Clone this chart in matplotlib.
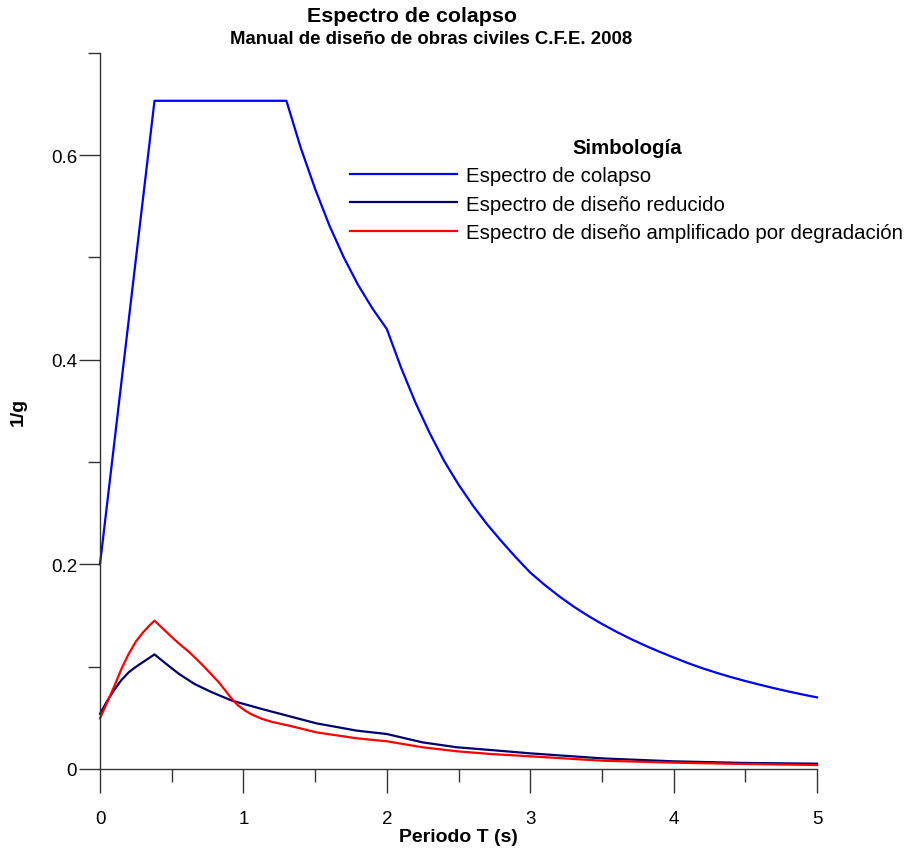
import matplotlib
matplotlib.use("Agg")
import matplotlib.pyplot as plt
from matplotlib.ticker import MultipleLocator

plt.rcParams['font.family'] = ['Liberation Sans', 'DejaVu Sans']

# Periodo T (s) and ordinates for each spectrum
t_colapso = [0.0, 0.38, 1.3, 1.4, 1.5, 1.6, 1.7, 1.8, 1.9, 2.0,
             2.1, 2.2, 2.3, 2.4, 2.5, 2.6, 2.7, 2.8, 2.9, 3.0,
             3.1, 3.2, 3.3, 3.4, 3.5, 3.6, 3.7, 3.8, 3.9, 4.0,
             4.1, 4.2, 4.3, 4.4, 4.5, 4.6, 4.7, 4.8, 4.9, 5.0]
a_colapso = [0.200, 0.653, 0.653, 0.607, 0.567, 0.531, 0.500, 0.473, 0.450, 0.430,
             0.392, 0.358, 0.328, 0.301, 0.278, 0.2575, 0.239, 0.2225, 0.2068, 0.192,
             0.180, 0.169, 0.159, 0.150, 0.1418, 0.1342, 0.1272, 0.1207, 0.1147, 0.109,
             0.1035, 0.0985, 0.094, 0.0898, 0.086, 0.0824, 0.079, 0.0758, 0.0728, 0.070]

t_reducido = [0.0, 0.05, 0.1, 0.15, 0.2, 0.25, 0.3, 0.38, 0.45, 0.55, 0.66, 0.78, 0.92, 1.13, 1.33,
              1.51, 1.79, 2.0, 2.25, 2.49, 2.72, 3.0, 3.5, 4.0, 4.5, 5.0]
a_reducido = [0.054, 0.0665, 0.0775, 0.087, 0.0945, 0.0998, 0.1045, 0.112, 0.104, 0.093, 0.083, 0.075,
              0.0668, 0.0586, 0.0512, 0.0446, 0.0375, 0.0342, 0.026, 0.0212, 0.0186, 0.0153, 0.0104,
              0.0075, 0.0059, 0.0052]

t_amplificado = [0.0, 0.05, 0.1, 0.15, 0.2, 0.25, 0.3, 0.34, 0.38, 0.44, 0.5, 0.56, 0.62, 0.68, 0.73,
                 0.78, 0.83, 0.875, 0.92, 0.96, 1.01, 1.06, 1.13, 1.2, 1.33,
                 1.51, 1.79, 2.0, 2.25, 2.49, 2.72, 3.0, 3.5, 4.0, 4.5, 5.0]
a_amplificado = [0.0495, 0.065, 0.081, 0.098, 0.1125, 0.1245, 0.1335, 0.1395, 0.145, 0.137, 0.129,
                 0.1215, 0.1145, 0.1065, 0.0994, 0.092, 0.0845, 0.0765, 0.0684, 0.0625, 0.0572,
                 0.0532, 0.049, 0.046, 0.042,
                 0.0358, 0.030, 0.0271, 0.0212, 0.0173, 0.0147, 0.0124, 0.0081, 0.0062, 0.0049, 0.0039]

x_ticks = [0, 1, 2, 3, 4, 5]
y_ticks = [0, 0.2, 0.4, 0.6]
y_tick_labels = ["0", "0.2", "0.4", "0.6"]

fig = plt.figure(figsize=(9.07, 8.53), dpi=100)
ax = fig.add_axes([100 / 907, 83 / 853, 717 / 907, 716.3 / 853])

ax.plot(t_colapso, a_colapso, color="#0000FF", lw=1.6, label="Espectro de colapso", clip_on=False)
ax.plot(t_reducido, a_reducido, color="#000070", lw=1.6, label="Espectro de diseño reducido", clip_on=False)
ax.plot(t_amplificado, a_amplificado, color="#FF0000", lw=1.6,
        label="Espectro de diseño amplificado por degradación", clip_on=False)

ax.set_xlim(0, 5)
ax.set_ylim(0, 0.7)
ax.spines['top'].set_visible(False)
ax.spines['right'].set_visible(False)
for s in ('left', 'bottom'):
    ax.spines[s].set_color("#333333")
    ax.spines[s].set_linewidth(1.0)

ax.set_xticks(x_ticks)
ax.set_xticklabels([str(v) for v in x_ticks])
ax.set_yticks(y_ticks)
ax.set_yticklabels(y_tick_labels)
ax.xaxis.set_minor_locator(MultipleLocator(0.5))
ax.yaxis.set_minor_locator(MultipleLocator(0.1))
ax.tick_params(which='both', direction='out', width=1.0, color="#333333", labelsize=13.5)
ax.tick_params(axis='x', which='major', length=17.3, pad=12.5)
ax.tick_params(axis='y', which='major', length=15, pad=1.5)
ax.tick_params(which='minor', length=9)

ax.set_xlabel("Periodo T (s)", fontsize=14, fontweight='bold')
ax.set_ylabel("1/g", fontsize=14, fontweight='bold')
ax.xaxis.set_label_coords(0.5, (770 - 838) / 716.3)
ax.xaxis.label.set_va('center')
ax.yaxis.set_label_coords((18 - 100) / 717, 0.5)
ax.yaxis.label.set_va('center')

fig.text(412 / 907, 1 - 16 / 853, "Espectro de colapso", fontsize=15.4, fontweight='bold',
         ha='center', va='center')
fig.text(431 / 907, 1 - 40 / 853, "Manual de diseño de obras civiles C.F.E. 2008", fontsize=13.4,
         fontweight='bold', ha='center', va='center')

leg = ax.legend(loc='upper left', bbox_to_anchor=(342 / 907, 1 - 131 / 853),
                bbox_transform=fig.transFigure, frameon=False, fontsize=14.7,
                title="Simbología", handlelength=5.24, handletextpad=0.45,
                labelspacing=0.45, borderaxespad=0)
leg.get_title().set_fontweight('bold')
leg.get_title().set_fontsize(14.7)

fig.savefig("out.png", dpi=100)
